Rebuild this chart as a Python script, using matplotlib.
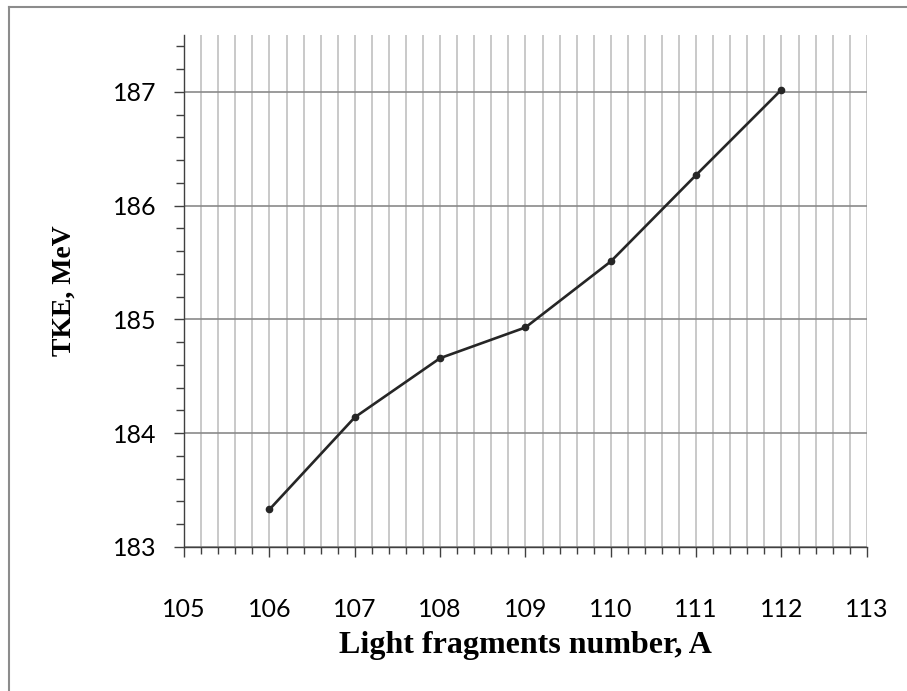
import matplotlib.pyplot as plt
from matplotlib.lines import Line2D
from matplotlib.ticker import MultipleLocator

# Data
light_fragments = [106, 107, 108, 109, 110, 111, 112]
tke_mev = [183.33, 184.14, 184.66, 184.93, 185.51, 186.27, 187.02]

x_ticks = [105, 106, 107, 108, 109, 110, 111, 112, 113]
y_ticks = [183, 184, 185, 186, 187]

fig = plt.figure(figsize=(9.07, 6.91), dpi=100)
ax = fig.add_axes([0.203, 0.2084, 0.7527, 0.7409])

ax.plot(light_fragments, tke_mev, color='#262626', linewidth=1.9,
        marker='o', markersize=4.5, zorder=3)

ax.set_xlim(105, 113)
ax.set_ylim(183, 187.5)
ax.set_xticks(x_ticks)
ax.set_yticks(y_ticks)
ax.xaxis.set_minor_locator(MultipleLocator(0.2))
ax.yaxis.set_minor_locator(MultipleLocator(0.2))

# grid: light vertical lines every 0.2, darker horizontal at integers
ax.grid(True, which='minor', axis='x', color='#c0c0c0', linewidth=1.2)
ax.grid(True, which='major', axis='x', color='#c0c0c0', linewidth=1.2)
ax.grid(True, which='major', axis='y', color='#8a8a8a', linewidth=1.2)
ax.set_axisbelow(True)

for side in ['top', 'right']:
    ax.spines[side].set_visible(False)
for side in ['left', 'bottom']:
    ax.spines[side].set_color('#404040')
    ax.spines[side].set_linewidth(1.0)

ax.tick_params(axis='both', which='major', direction='out', length=7,
               width=1.0, color='#404040', labelsize=18)
ax.tick_params(axis='both', which='minor', direction='out', length=5,
               width=1.0, color='#404040')
ax.tick_params(axis='x', which='major', pad=30)
ax.tick_params(axis='y', which='major', length=7, pad=13)
ax.tick_params(axis='y', which='minor', length=6)
for lbl in ax.get_xticklabels() + ax.get_yticklabels():
    lbl.set_fontfamily('Lato')

ax.set_xlabel('Light fragments number, A', fontfamily='Liberation Serif',
              fontweight='bold', fontsize=23, labelpad=7)
ax.set_ylabel('TKE, MeV', fontfamily='Liberation Serif',
              fontweight='bold', fontsize=20, labelpad=26)

# chart-area border (left and top edges only visible)
fig.add_artist(Line2D([8.5 / 907, 8.5 / 907], [0, 1 - 6.5 / 691],
                      transform=fig.transFigure, color='#8c8c8c', linewidth=1.5))
fig.add_artist(Line2D([8.5 / 907, 1], [1 - 6.5 / 691, 1 - 6.5 / 691],
                      transform=fig.transFigure, color='#8c8c8c', linewidth=1.5))

fig.savefig('out.png', dpi=100)
